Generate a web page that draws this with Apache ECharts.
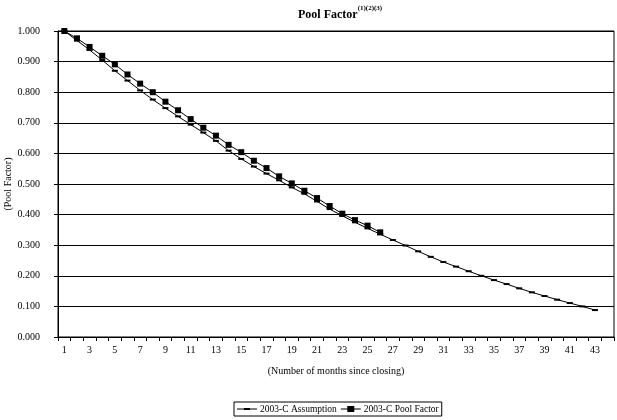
<!DOCTYPE html>
<html>
<head>
<meta charset="utf-8">
<script src="https://cdn.jsdelivr.net/npm/echarts@6/dist/echarts.min.js"></script>
<style>html,body{margin:0;padding:0;background:#fff}#c{width:617px;height:420px}</style>
</head>
<body>
<div id="c"></div>
<script>
const months = ['1','2','3','4','5','6','7','8','9','10','11','12','13','14','15','16','17','18','19','20','21','22','23','24','25','26','27','28','29','30','31','32','33','34','35','36','37','38','39','40','41','42','43',''];
const assumption = [1.000,0.969,0.938,0.905,0.870,0.838,0.806,0.776,0.748,0.721,0.694,0.668,0.641,0.609,0.582,0.557,0.534,0.512,0.489,0.468,0.443,0.418,0.396,0.375,0.355,0.336,0.317,0.299,0.280,0.262,0.245,0.230,0.215,0.200,0.186,0.173,0.159,0.146,0.134,0.122,0.111,0.100,0.088];
const poolFactor = [1.000,0.976,0.948,0.919,0.891,0.858,0.828,0.800,0.769,0.741,0.712,0.684,0.658,0.628,0.604,0.576,0.552,0.525,0.502,0.478,0.454,0.428,0.403,0.382,0.364,0.342];
const seriesNames = ['2003-C Assumption','2003-C Pool Factor'];
const yAxisTitle = '(Pool Factor)';
const F = 'Liberation Serif';
const chart = echarts.init(document.getElementById('c'));
chart.setOption({
  animation:false,
  backgroundColor:'#fff',
  textStyle:{fontFamily:F},
  title:{
    text:'{t|Pool Factor}{s|(1)(2)(3)}',
    left:293, top:0,
    textStyle:{rich:{
      t:{fontFamily:F,fontWeight:'bold',fontSize:12,color:'#000',verticalAlign:'bottom',lineHeight:16},
      s:{fontFamily:F,fontWeight:'bold',fontSize:7,color:'#000',verticalAlign:'top',lineHeight:16,padding:[0,0,8,0]}
    }}
  },
  graphic:[{
    type:'text', x:8, y:184, rotation:Math.PI/2,
    style:{text:yAxisTitle, fontFamily:F, fontSize:10, fill:'#000', textAlign:'center', textVerticalAlign:'middle'}
  }],
  grid:{left:58,right:3,top:31,bottom:83,show:true,borderColor:'#000',borderWidth:1,containLabel:false,outerBoundsMode:'none'},
  legend:{
    bottom:4,left:234,
    data:[
      {name:seriesNames[0],icon:'path://M0,3.5H7V3H13V3.5H20V4.5H13V5H7V4.5H0Z'},
      {name:seriesNames[1],icon:'path://M0,3.5H6.5V1H13.5V3.5H20V4.5H13.5V7H6.5V4.5H0Z'}
    ],
    borderColor:'#000',borderWidth:1,padding:[2,3],itemGap:4,
    itemWidth:20,itemHeight:8,
    textStyle:{fontFamily:F,fontSize:9.5,color:'#000',padding:[0,0,0,-2]}
  },
  xAxis:{
    type:'category',data:months,boundaryGap:true,
    name:'(Number of months since closing)',nameLocation:'middle',nameGap:29,
    nameTextStyle:{fontFamily:F,fontSize:10,color:'#000'},
    axisLine:{lineStyle:{color:'#000',width:1}},
    axisTick:{show:true,interval:0,length:4,lineStyle:{color:'#000'}},
    axisLabel:{interval:1,fontFamily:F,fontSize:10,color:'#000',margin:8},
    splitLine:{show:false}
  },
  yAxis:{
    type:'value',min:0,max:1,interval:0.1,
    axisLine:{show:true,lineStyle:{color:'#000',width:1}},
    axisTick:{show:true,length:4,lineStyle:{color:'#000'}},
    axisLabel:{fontFamily:F,fontSize:10,color:'#000',margin:18,formatter:v=>v.toFixed(3)},
    splitLine:{show:true,lineStyle:{color:'#000',width:1}}
  },
  series:[
    {name:seriesNames[0],type:'line',data:assumption,symbol:'rect',symbolSize:[6,2],
     itemStyle:{color:'#000'},lineStyle:{color:'#000',width:1},z:2},
    {name:seriesNames[1],type:'line',data:poolFactor,symbol:'rect',symbolSize:6,
     itemStyle:{color:'#000'},lineStyle:{color:'#000',width:1},z:3}
  ]
});
</script>
</body>
</html>
